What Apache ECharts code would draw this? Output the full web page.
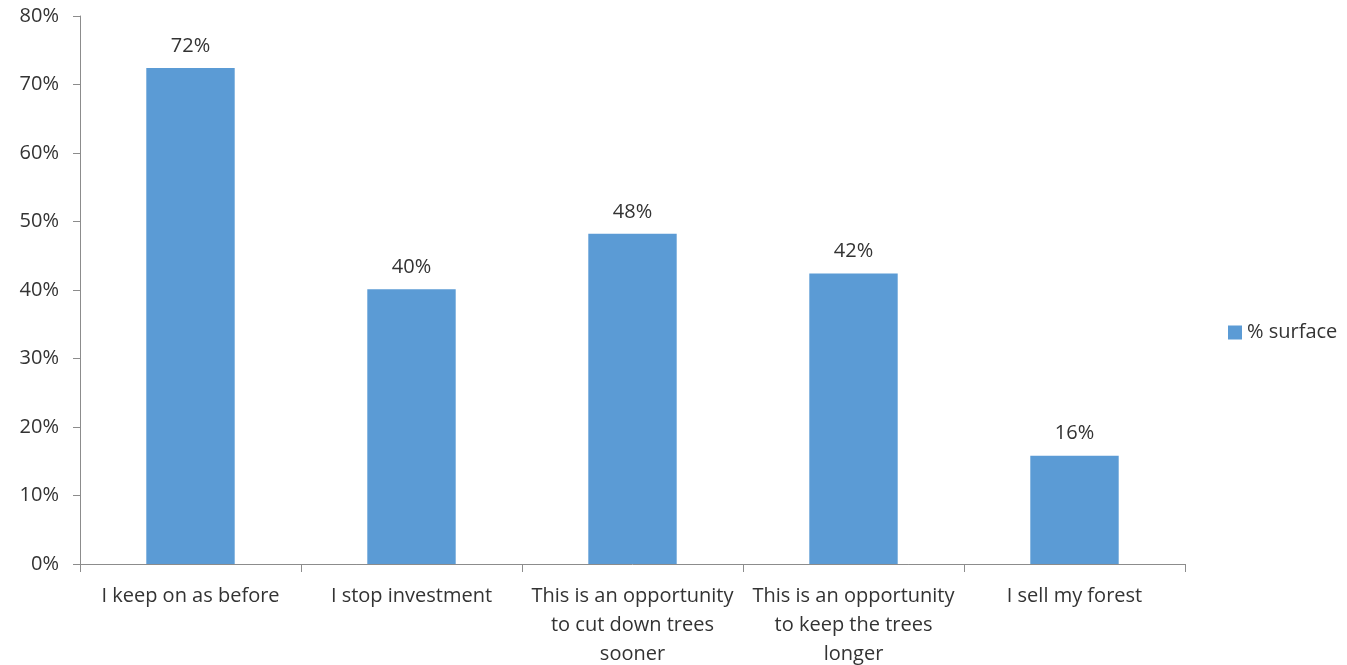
<!DOCTYPE html>
<html><head><meta charset="utf-8">
<script src="https://cdn.jsdelivr.net/npm/echarts@6/dist/echarts.min.js"></script>
<style>html,body{margin:0;padding:0;background:#fff}#c{width:1347px;height:665px}</style>
</head><body><div id="c"></div>
<script>
const categories = ["I keep on as before", "I stop investment", "This is an opportunity\nto cut down trees\nsooner", "This is an opportunity\nto keep the trees\nlonger", "I sell my forest"];
const surfaceValues = [72.4, 40.1, 48.2, 42.4, 15.8];
const seriesName = "% surface";

const FONT = "Open Sans";
const FS = 20;
const chart = echarts.init(document.getElementById('c'), null, {renderer: 'canvas'});
chart.setOption({
  animation: false,
  textStyle: {fontFamily: FONT},
  grid: {left: 80, right: 162, top: 16, bottom: 101, containLabel: false, outerBoundsMode: 'none'},
  legend: {
    data: [seriesName], orient: 'vertical', left: 1223, top: 'middle',
    itemWidth: 14, itemHeight: 14, itemGap: 6, icon: 'rect',
    textStyle: {fontFamily: FONT, fontSize: FS, color: '#333'}
  },
  xAxis: {
    type: 'category', data: categories, boundaryGap: true,
    axisLine: {lineStyle: {color: '#8c8c8c', width: 1}},
    axisTick: {show: true, alignWithLabel: false, length: 8, lineStyle: {color: '#8c8c8c'}},
    axisLabel: {
      interval: 0, margin: 18, fontFamily: FONT, fontSize: FS, color: '#333',
      lineHeight: 29, align: 'center'
    },
    splitLine: {show: false}
  },
  yAxis: {
    type: 'value', min: 0, max: 80, interval: 10,
    axisLine: {show: true, lineStyle: {color: '#8c8c8c', width: 1}},
    axisTick: {show: true, length: 7, inside: false, lineStyle: {color: '#8c8c8c'}},
    axisLabel: {formatter: '{value}%', margin: 21, fontFamily: FONT, fontSize: FS, color: '#333'},
    splitLine: {show: false}
  },
  series: [{
    name: seriesName, type: 'bar', data: surfaceValues, barWidth: '40%',
    itemStyle: {color: '#5B9BD5'},
    label: {
      show: true, position: 'top', distance: 12, fontFamily: FONT, fontSize: FS, color: '#333',
      formatter: p => Math.round(p.value) + '%'
    }
  }]
});
</script></body></html>
